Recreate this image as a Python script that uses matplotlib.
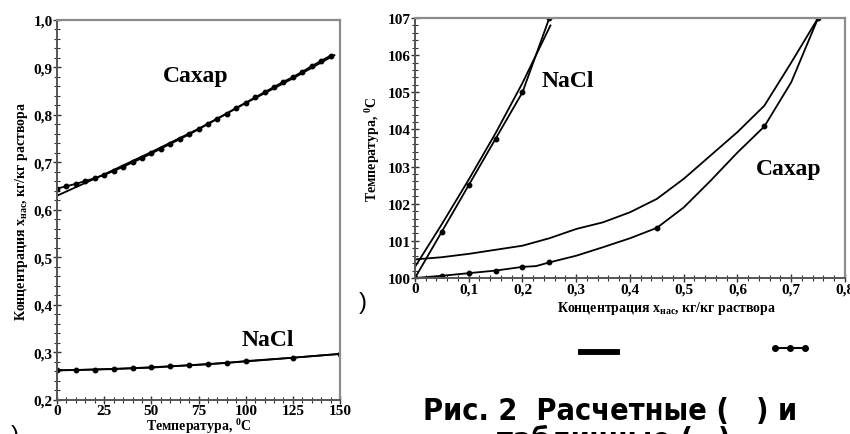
import matplotlib
matplotlib.use("Agg")
import matplotlib.pyplot as plt
from matplotlib import font_manager
from matplotlib.lines import Line2D
from matplotlib.ticker import MultipleLocator

# Шрифты: подписи осей - жирная антиква, подпись рисунка - узкий гротеск
plt.rcParams['font.family'] = ['Liberation Serif', 'DejaVu Serif']
plt.rcParams['mathtext.fontset'] = 'custom'
plt.rcParams['mathtext.rm'] = 'Liberation Serif:bold'
plt.rcParams['mathtext.it'] = 'Liberation Serif:italic:bold'
plt.rcParams['mathtext.bf'] = 'Liberation Serif:bold'

# ---------------- Данные: растворимость от температуры ----------------
# Сахар, табличные значения (точки)
t_sugar_tab = [0, 5, 10, 15, 20, 25, 30, 35, 40, 45, 50, 55, 60, 65, 70,
               75, 80, 85, 90, 95, 100, 105, 110, 115, 120, 125, 130, 135,
               140, 145]
x_sugar_tab = [0.645, 0.650, 0.655, 0.661, 0.667, 0.674, 0.682, 0.691,
               0.700, 0.709, 0.719, 0.729, 0.739, 0.749, 0.759, 0.770,
               0.781, 0.792, 0.803, 0.815, 0.826, 0.837, 0.848, 0.859,
               0.870, 0.880, 0.891, 0.903, 0.914, 0.925]
# Сахар, расчет (линия)
t_sugar_calc = [0, 25, 50, 75, 100, 125, 147]
x_sugar_calc = [0.630, 0.675, 0.722, 0.771, 0.825, 0.877, 0.926]
# NaCl, табличные значения
t_nacl_tab = [0, 10, 20, 30, 40, 50, 60, 70, 80, 90, 100, 125, 150]
x_nacl_tab = [0.263, 0.263, 0.264, 0.265, 0.267, 0.269, 0.271, 0.273,
              0.275, 0.278, 0.282, 0.289, 0.297]
# NaCl, расчет
t_nacl_calc = [0, 50, 100, 150]
x_nacl_calc = [0.262, 0.268, 0.281, 0.297]

# ---------------- Данные: температура кипения от концентрации ----------------
c_nacl_tab = [0, 0.05, 0.10, 0.15, 0.20, 0.25]
tb_nacl_tab = [100.0, 101.25, 102.5, 103.75, 105.0, 107.0]
c_nacl_calc = [0, 0.05, 0.10, 0.15, 0.20, 0.252]
tb_nacl_calc = [100.3, 101.45, 102.65, 103.9, 105.25, 106.8]

# Сахар, табличные: линия и точки
c_sugar_tab_line = [0, 0.05, 0.10, 0.15, 0.20, 0.225, 0.25, 0.30, 0.35,
                    0.40, 0.45, 0.50, 0.55, 0.60, 0.65, 0.70, 0.75]
tb_sugar_tab_line = [100.0, 100.06, 100.13, 100.2, 100.3, 100.32, 100.42,
                     100.6, 100.83, 101.07, 101.35, 101.9, 102.62, 103.38,
                     104.08, 105.27, 107.0]
c_sugar_tab = [0, 0.05, 0.10, 0.15, 0.20, 0.25, 0.45, 0.65, 0.75]
tb_sugar_tab = [100.0, 100.06, 100.13, 100.2, 100.3, 100.42, 101.35,
                104.08, 107.0]
# Сахар, расчет
c_sugar_calc = [0, 0.05, 0.10, 0.15, 0.20, 0.25, 0.30, 0.35, 0.40, 0.45,
                0.50, 0.55, 0.60, 0.65, 0.70, 0.75]
tb_sugar_calc = [100.5, 100.56, 100.65, 100.76, 100.87, 101.07, 101.32,
                 101.5, 101.77, 102.13, 102.67, 103.3, 103.93, 104.64,
                 105.8, 107.0]

# Подписи делений
left_xticks = [0, 25, 50, 75, 100, 125, 150]
left_xlabels = ['0', '25', '50', '75', '100', '125', '150']
left_yticks = [0.2, 0.3, 0.4, 0.5, 0.6, 0.7, 0.8, 0.9, 1.0]
left_ylabels = ['0,2', '0,3', '0,4', '0,5', '0,6', '0,7', '0,8', '0,9', '1,0']
right_xticks = [0, 0.1, 0.2, 0.3, 0.4, 0.5, 0.6, 0.7, 0.8]
right_xlabels = ['0', '0,1', '0,2', '0,3', '0,4', '0,5', '0,6', '0,7', '0,8']
right_yticks = [100, 101, 102, 103, 104, 105, 106, 107]
right_ylabels = ['100', '101', '102', '103', '104', '105', '106', '107']

LineStyle = {"color": "black", "linewidth": 1.3}
DotStyle = {"color": "black", "linewidth": 1.3, "marker": "o",
            "markersize": 3.2}
TickFont = {"family": "Liberation Serif", "weight": "bold", "size": 11}
LabelFont = {"family": "Liberation Serif", "weight": "bold", "size": 10}
NoteFont = {"family": "Liberation Serif", "weight": "bold", "size": 17}


def oformit_os(ax, xt, xl, yt, yl, xminor, yminor):
    """Оформление осей как на скане: серая рамка, засечки поперек оси"""
    ax.set_xticks(xt)
    ax.set_xticklabels(xl, fontdict=TickFont)
    ax.set_yticks(yt)
    ax.set_yticklabels(yl, fontdict=TickFont)
    ax.xaxis.set_minor_locator(MultipleLocator(xminor))
    ax.yaxis.set_minor_locator(MultipleLocator(yminor))
    ax.tick_params(which='major', direction='inout', length=6, width=1,
                   pad=0, color='#333333')
    ax.tick_params(which='minor', direction='inout', length=4, width=0.8,
                   color='#333333')
    for s in ['top', 'right']:
        ax.spines[s].set_color('#8c8c8c')
        ax.spines[s].set_linewidth(1.6)
    for s in ['left', 'bottom']:
        ax.spines[s].set_color('#555555')
        ax.spines[s].set_linewidth(1.4)


fig = plt.figure(figsize=(8.5, 4.35), dpi=100)

# Левый график: растворимость
ax1 = fig.add_axes([0.0671, 0.0782, 0.333, 0.8736])
ax1.plot(t_sugar_calc, x_sugar_calc, **LineStyle)
ax1.plot(t_sugar_tab, x_sugar_tab, **DotStyle)
ax1.plot(t_nacl_calc, x_nacl_calc, **LineStyle)
ax1.plot(t_nacl_tab, x_nacl_tab, **DotStyle)
ax1.set_xlim(0, 150)
ax1.set_ylim(0.2, 1.0)
oformit_os(ax1, left_xticks, left_xlabels, left_yticks, left_ylabels, 5, 0.02)
ax1.set_xlabel(r'Температура, $^{\mathrm{0}}$C', fontdict=LabelFont,
               va='center')
ax1.xaxis.set_label_coords(0.5, -0.068)
ax1.set_ylabel(r'Концентрация x$_{\mathrm{нас}}$, кг/кг раствора',
               fontdict=LabelFont, va='center')
ax1.yaxis.set_label_coords(-0.124, 0.5)
ax1.text(0.49, 0.855, 'Сахар', transform=ax1.transAxes, ha='center',
         va='center', fontdict=NoteFont)
ax1.text(0.745, 0.16, 'NaCl', transform=ax1.transAxes, ha='center',
         va='center', fontdict=NoteFont)

# Правый график: температура кипения
ax2 = fig.add_axes([0.4882, 0.3586, 0.5059, 0.5977])
ax2.plot(c_nacl_calc, tb_nacl_calc, **LineStyle)
ax2.plot(c_nacl_tab, tb_nacl_tab, **DotStyle)
ax2.plot(c_sugar_calc, tb_sugar_calc, **LineStyle)
ax2.plot(c_sugar_tab_line, tb_sugar_tab_line, **LineStyle)
ax2.plot(c_sugar_tab, tb_sugar_tab, linestyle='none', marker='o',
         markersize=3.2, color='black')
ax2.set_xlim(0, 0.8)
ax2.set_ylim(100, 107)
oformit_os(ax2, right_xticks, right_xlabels, right_yticks, right_ylabels,
           0.02, 0.2)
ax2.set_xlabel(r'Концентрация x$_{\mathrm{нас}}$, кг/кг раствора',
               fontdict=LabelFont, va='center')
ax2.xaxis.set_label_coords(0.585, -0.112)
ax2.set_ylabel(r'Температура, $^{\mathrm{0}}$C', fontdict=LabelFont,
               va='center')
ax2.yaxis.set_label_coords(-0.098, 0.5)
ax2.text(0.355, 0.76, 'NaCl', transform=ax2.transAxes, ha='center',
         va='center', fontdict=NoteFont)
ax2.text(0.868, 0.42, 'Сахар', transform=ax2.transAxes, ha='center',
         va='center', fontdict=NoteFont)

# Обрывки подписи рисунка со скана; узкий шрифт, если он есть
installed = {(f.name, f.stretch) for f in font_manager.fontManager.ttflist}
if any(n == 'Liberation Sans Narrow' for n, _ in installed):
    CapFont = {"family": "Liberation Sans Narrow", "weight": "bold",
               "size": 25}
elif ('DejaVu Sans', 'condensed') in installed:
    CapFont = {"family": "DejaVu Sans", "stretch": "condensed",
               "weight": "bold", "size": 22}
else:
    CapFont = {"family": "Liberation Sans", "weight": "bold", "size": 21.5}

fig.text(423 / 850, 1 - 420 / 435, 'Рис. 2  Расчетные (', ha='left',
         va='baseline', fontdict=CapFont)
fig.text(797 / 850, 1 - 420 / 435, ') и', ha='right', va='baseline',
         fontdict=CapFont)
fig.text(497 / 850, 1 - 449 / 435, 'табличные (', ha='left',
         va='baseline', fontdict=CapFont)
fig.text(730 / 850, 1 - 449 / 435, ')', ha='right',
         va='baseline', fontdict=CapFont)
fig.text(363 / 850, 1 - 303 / 435, ')', ha='center', va='center',
         fontsize=17, family='Liberation Sans')
fig.text(15 / 850, 1 - 436 / 435, ')', ha='center', va='center',
         fontsize=17, family='Liberation Sans')

# Условные обозначения: линия - расчет, точки - таблица
leg1 = fig.legend(handles=[Line2D([], [], color='black', linewidth=4)],
                  labels=[''], loc='center', frameon=False,
                  bbox_to_anchor=(599 / 850, 1 - 354 / 435),
                  handlelength=2.6, handletextpad=0, borderpad=0)
fig.legend(handles=[Line2D([], [], color='black', linewidth=1.5,
                           marker='o', markersize=4)],
           labels=[''], loc='center', frameon=False, numpoints=3,
           bbox_to_anchor=(790 / 850, 1 - 350 / 435),
           handlelength=2.7, handletextpad=0, borderpad=0)
fig.add_artist(leg1)

fig.savefig('out.png', dpi=100)
